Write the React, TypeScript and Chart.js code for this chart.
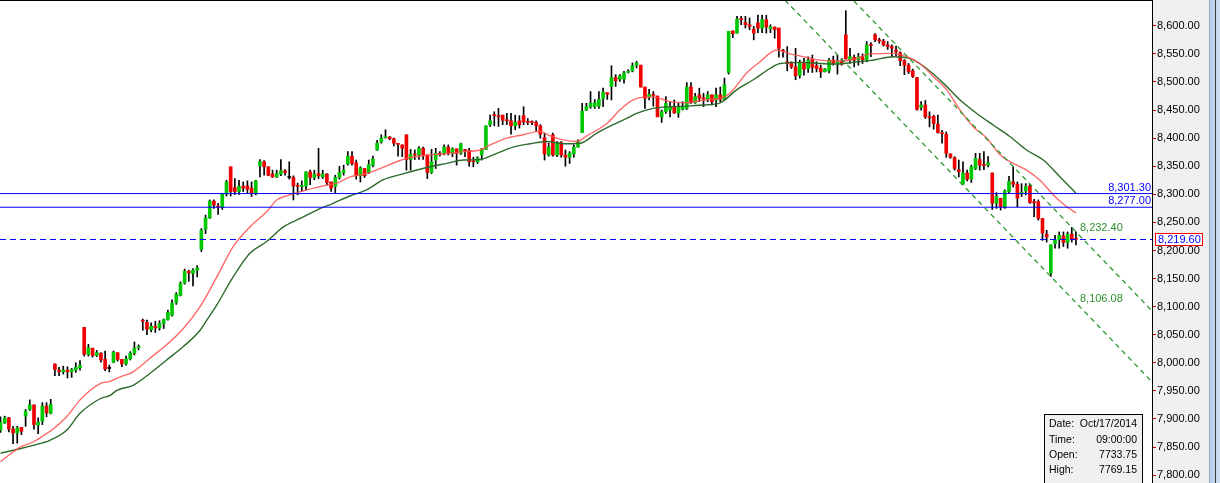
import React, { useEffect, useRef } from "react";
import { Chart, registerables } from "chart.js";

Chart.register(...registerables);

// ---- Candles (bar index 0..257) ----
const opens = [
  7880, 7893, 7902, 7882, 7875, 7885, 7905, 7917, 7925, 7889, 7896, 7923, 7910,
  7998, 7987, 7984, 7987, 7984, 7987, 7991, 8063, 8015, 8026, 8013, 8017, 8006,
  7990, 8001, 8018, 8006, 7998, 8007, 8017, 8027, 8076, 8072, 8059, 8065, 8062,
  8070, 8077, 8085, 8107, 8120, 8142, 8163, 8159, 8165, 8202, 8238, 8258, 8288,
  8279, 8277, 8301, 8349, 8312, 8305, 8314, 8315, 8311, 8301, 8351, 8358, 8349,
  8336, 8331, 8336, 8342, 8330, 8330, 8315, 8314, 8315, 8340, 8330, 8337, 8331,
  8336, 8322, 8314, 8330, 8339, 8354, 8368, 8356, 8333, 8346, 8339, 8352, 8379,
  8393, 8401, 8402, 8399, 8390, 8388, 8406, 8362, 8371, 8370, 8382, 8370, 8339,
  8361, 8373, 8373, 8384, 8373, 8381, 8373, 8379, 8378, 8359, 8358, 8370, 8380,
  8424, 8441, 8439, 8441, 8432, 8431, 8422, 8431, 8440, 8430, 8429, 8428, 8422,
  8401, 8370, 8406, 8370, 8392, 8370, 8366, 8372, 8384, 8410, 8450, 8456, 8456,
  8457, 8470, 8481, 8492, 8508, 8505, 8505, 8517, 8520, 8530, 8530, 8491, 8473,
  8478, 8475, 8438, 8447, 8450, 8456, 8445, 8451, 8453, 8491, 8463, 8477, 8471,
  8469, 8477, 8468, 8477, 8469, 8517, 8591, 8587, 8613, 8606, 8602, 8594, 8605,
  8596, 8611, 8595, 8598, 8596, 8556, 8536, 8533, 8527, 8512, 8533, 8524, 8540,
  8529, 8525, 8518, 8520, 8539, 8532, 8536, 8584, 8539, 8544, 8540, 8545, 8539,
  8567, 8584, 8575, 8573, 8566, 8563, 8557, 8552, 8538, 8530, 8520, 8508, 8455,
  8459, 8438, 8439, 8425, 8409, 8407, 8372, 8365, 8344, 8318, 8338, 8327, 8346,
  8362, 8353, 8352, 8338, 8284, 8293, 8278, 8305, 8322, 8318, 8302, 8306, 8315,
  8287, 8287, 8257, 8229, 8160, 8212, 8219, 8226, 8214, 8229, 8221,
];
const highs = [
  7904, 7905, 7903, 7887, 7887, 7885, 7917, 7934, 7925, 7902, 7929, 7929, 7935,
  7998, 7992, 7994, 7993, 7990, 8000, 8004, 8063, 8033, 8026, 8022, 8018, 8021,
  7996, 8021, 8018, 8006, 8012, 8020, 8037, 8032, 8078, 8076, 8071, 8074, 8075,
  8078, 8094, 8112, 8125, 8144, 8167, 8165, 8168, 8173, 8239, 8263, 8290, 8290,
  8284, 8302, 8325, 8349, 8328, 8325, 8322, 8324, 8322, 8325, 8362, 8360, 8349,
  8343, 8343, 8362, 8344, 8358, 8333, 8320, 8324, 8340, 8343, 8343, 8382, 8343,
  8337, 8322, 8334, 8350, 8352, 8376, 8376, 8361, 8349, 8346, 8361, 8368, 8396,
  8406, 8415, 8403, 8400, 8391, 8388, 8406, 8380, 8379, 8385, 8384, 8370, 8380,
  8382, 8376, 8388, 8388, 8383, 8381, 8391, 8380, 8382, 8366, 8367, 8382, 8422,
  8441, 8447, 8453, 8441, 8444, 8444, 8441, 8440, 8456, 8435, 8431, 8431, 8424,
  8409, 8391, 8409, 8394, 8394, 8379, 8376, 8388, 8397, 8462, 8462, 8483, 8469,
  8483, 8489, 8481, 8529, 8513, 8513, 8519, 8522, 8534, 8537, 8530, 8491, 8487,
  8483, 8475, 8450, 8474, 8465, 8468, 8462, 8465, 8499, 8499, 8480, 8489, 8480,
  8483, 8477, 8489, 8491, 8507, 8590, 8591, 8617, 8617, 8617, 8614, 8599, 8619,
  8619, 8619, 8602, 8598, 8596, 8558, 8563, 8536, 8560, 8539, 8542, 8545, 8548,
  8536, 8530, 8524, 8542, 8546, 8548, 8542, 8627, 8560, 8548, 8551, 8550, 8572,
  8570, 8586, 8578, 8576, 8572, 8566, 8564, 8554, 8540, 8533, 8523, 8508, 8465,
  8467, 8447, 8441, 8441, 8414, 8411, 8372, 8367, 8361, 8358, 8343, 8352, 8373,
  8373, 8376, 8367, 8338, 8303, 8293, 8308, 8332, 8349, 8322, 8319, 8319, 8318,
  8291, 8290, 8257, 8236, 8210, 8227, 8233, 8233, 8233, 8241, 8233,
];
const lows = [
  7876, 7892, 7877, 7856, 7857, 7872, 7887, 7915, 7882, 7874, 7890, 7904, 7909,
  7977, 7977, 7980, 7973, 7974, 7983, 7987, 8012, 8012, 8010, 8011, 8001, 7986,
  7984, 8000, 8003, 7993, 7996, 8005, 8014, 8023, 8058, 8050, 8055, 8054, 8058,
  8061, 8076, 8083, 8104, 8119, 8140, 8145, 8137, 8153, 8198, 8230, 8257, 8275,
  8264, 8273, 8297, 8297, 8300, 8300, 8305, 8302, 8296, 8299, 8331, 8334, 8333,
  8330, 8330, 8333, 8334, 8327, 8290, 8299, 8305, 8308, 8317, 8326, 8328, 8328,
  8317, 8305, 8303, 8327, 8334, 8352, 8352, 8327, 8322, 8330, 8337, 8349, 8378,
  8391, 8400, 8397, 8386, 8368, 8367, 8343, 8343, 8362, 8362, 8362, 8328, 8337,
  8346, 8368, 8370, 8370, 8367, 8352, 8371, 8367, 8350, 8349, 8355, 8361, 8380,
  8421, 8422, 8421, 8424, 8424, 8407, 8415, 8418, 8424, 8424, 8424, 8413, 8400,
  8361, 8368, 8368, 8367, 8366, 8350, 8355, 8366, 8384, 8410, 8449, 8453, 8453,
  8453, 8456, 8469, 8468, 8492, 8501, 8498, 8516, 8518, 8525, 8491, 8453, 8468,
  8457, 8438, 8428, 8444, 8438, 8444, 8437, 8450, 8451, 8462, 8462, 8465, 8456,
  8465, 8459, 8456, 8465, 8468, 8514, 8579, 8587, 8602, 8596, 8593, 8575, 8588,
  8588, 8587, 8588, 8578, 8544, 8544, 8520, 8524, 8504, 8507, 8512, 8517, 8517,
  8518, 8508, 8518, 8516, 8530, 8514, 8530, 8541, 8533, 8527, 8530, 8533, 8536,
  8545, 8572, 8569, 8564, 8558, 8545, 8546, 8529, 8513, 8515, 8508, 8450, 8450,
  8435, 8420, 8416, 8409, 8391, 8366, 8364, 8343, 8331, 8318, 8324, 8321, 8344,
  8343, 8344, 8349, 8273, 8275, 8272, 8275, 8303, 8313, 8278, 8296, 8299, 8284,
  8260, 8254, 8218, 8215, 8154, 8204, 8204, 8207, 8204, 8215, 8210,
];
const closes = [
  7894, 7902, 7882, 7875, 7884, 7878, 7914, 7925, 7890, 7894, 7923, 7911, 7926,
  7988, 7984, 7987, 7984, 7988, 7992, 7996, 8015, 8027, 8013, 8018, 8005, 7989,
  7990, 8019, 8006, 7998, 8007, 8017, 8026, 8028, 8074, 8060, 8065, 8062, 8070,
  8077, 8090, 8106, 8122, 8141, 8163, 8160, 8165, 8169, 8236, 8258, 8288, 8281,
  8277, 8300, 8322, 8305, 8305, 8314, 8311, 8309, 8302, 8324, 8358, 8349, 8334,
  8331, 8337, 8342, 8339, 8330, 8315, 8314, 8316, 8340, 8330, 8336, 8333, 8336,
  8321, 8311, 8330, 8339, 8343, 8368, 8355, 8334, 8347, 8333, 8353, 8363, 8391,
  8400, 8402, 8399, 8391, 8389, 8382, 8362, 8371, 8370, 8382, 8370, 8339, 8358,
  8373, 8371, 8384, 8374, 8381, 8373, 8390, 8378, 8358, 8358, 8365, 8381, 8422,
  8431, 8440, 8438, 8432, 8431, 8422, 8428, 8424, 8429, 8428, 8428, 8422, 8407,
  8372, 8384, 8370, 8392, 8370, 8366, 8373, 8384, 8394, 8448, 8456, 8462, 8463,
  8469, 8482, 8478, 8508, 8502, 8511, 8516, 8519, 8529, 8534, 8491, 8471, 8478,
  8476, 8438, 8447, 8462, 8456, 8445, 8455, 8456, 8491, 8463, 8474, 8471, 8470,
  8477, 8465, 8477, 8469, 8495, 8590, 8586, 8612, 8611, 8602, 8599, 8587, 8596,
  8611, 8598, 8598, 8593, 8560, 8555, 8533, 8527, 8511, 8534, 8523, 8539, 8526,
  8524, 8518, 8523, 8539, 8533, 8536, 8532, 8541, 8545, 8539, 8545, 8539, 8566,
  8565, 8575, 8573, 8566, 8563, 8560, 8554, 8538, 8530, 8518, 8510, 8451, 8459,
  8438, 8436, 8426, 8410, 8408, 8373, 8366, 8346, 8340, 8338, 8327, 8349, 8364,
  8352, 8351, 8356, 8284, 8296, 8278, 8306, 8323, 8318, 8293, 8304, 8314, 8285,
  8285, 8257, 8231, 8224, 8210, 8219, 8227, 8214, 8229, 8221, 8219.6,
];

// ---- Moving averages (bar index, price) ----
const maFastX = [
  0, 4.7, 7.8, 11, 12.2, 15.8, 19, 23.8, 26.2, 28.6, 31.7, 33.3, 35.7, 39.7, 43.7,
  47.7, 51.7, 55.6, 59.6, 63.6, 66, 69.2, 73.2, 77.1, 80.3, 83.5, 87.5, 91.4, 94.7,
  97.1, 102.6, 106.6, 110.6, 114.6, 117, 121, 124.9, 128.9, 131.3, 134.5, 137.7,
  140.1, 144.9, 148, 151.2, 153.6, 156, 160, 164, 168, 172, 174.3, 178.3, 181.5,
  185.5, 188.7, 192.6, 195.8, 199.8, 203.8, 207.8, 213.4, 216.6, 219.7, 222.9,
  226.1, 229.3, 232.5, 235.7, 238.9, 242, 245.2, 248.4, 251.6, 254.8, 257,
];
const maFastY = [
  7824, 7850, 7859, 7874, 7880, 7904, 7934, 7963, 7967, 7975, 7984, 7993, 8008,
  8032, 8061, 8100, 8153, 8207, 8242, 8269, 8290, 8299, 8308, 8315, 8320, 8331,
  8337, 8348, 8358, 8364, 8370, 8372, 8376, 8379, 8388, 8400, 8406, 8412, 8404,
  8397, 8394, 8404, 8426, 8450, 8468, 8473, 8473, 8465, 8463, 8468, 8471, 8480,
  8516, 8536, 8557, 8550, 8544, 8539, 8537, 8540, 8550, 8551, 8545, 8533, 8510,
  8486, 8450, 8420, 8400, 8370, 8355, 8343, 8325, 8299, 8278, 8267,
];
const maSlowX = [
  0, 4.7, 7.8, 11.8, 15.8, 19, 23.8, 26.2, 27.8, 31.7, 35.7, 39.7, 43.7, 47.7,
  49.3, 51.7, 55.6, 59.6, 63.6, 67.6, 71.6, 75.6, 79.5, 83.5, 87.5, 91.5, 95.5,
  102.6, 106.6, 110.6, 114.6, 118.6, 122.5, 126.5, 130.5, 134.5, 138.5, 142.5,
  146.4, 150.4, 152, 156, 160, 164, 168, 172, 175.9, 179.9, 183.9, 186.3, 191.8,
  195.8, 199.8, 203.8, 207.8, 213.4, 217.3, 221.3, 225.3, 229.3, 233.3, 237.3,
  241.2, 245.2, 249.2, 253.2, 257,
];
const maSlowY = [
  7839, 7847, 7853, 7862, 7880, 7910, 7936, 7942, 7951, 7960, 7981, 8005, 8029,
  8058, 8076, 8103, 8153, 8195, 8216, 8242, 8257, 8272, 8284, 8297, 8308, 8326,
  8335, 8349, 8355, 8361, 8362, 8373, 8384, 8390, 8394, 8390, 8391, 8409, 8424,
  8438, 8444, 8453, 8456, 8457, 8459, 8463, 8486, 8504, 8524, 8533, 8535, 8533,
  8532, 8535, 8538, 8545, 8542, 8524, 8498, 8468, 8444, 8423, 8403, 8379, 8361,
  8331, 8302,
];

// ---- Levels, channel and labels ----
const levelTop = 8301.3;
const levelMid = 8277.0;
const lastPrice = 8219.6;
const channelUpperX = [195, 275.2];
const channelUpperY = [8713.5, 8092.3];
const channelLowerX = [180, 275.2];
const channelLowerY = [8703.6, 7966.0];
const channelUpperLabel = 8232.4;
const channelLowerLabel = 8106.08;
const yTicks = [
  7800, 7850, 7900, 7950, 8000, 8050, 8100, 8150, 8200, 8250, 8300, 8350, 8400,
  8450, 8500, 8550, 8600,
];
const infoKeys = ["Date:", "Time:", "Open:", "High:"];
const infoValues = ["Oct/17/2014", "09:00:00", "7733.75", "7769.15"];

const X_MIN = -0.12;
const X_MAX = 275.17;
const FONT = '11px "Liberation Sans", Arial, sans-serif';
const INFO_FONT = '10.5px "Liberation Sans", Arial, sans-serif';
const fmt = (v: number) =>
  v.toLocaleString("en-US", { minimumFractionDigits: 2, maximumFractionDigits: 2 });

const overlayPlugin = {
  id: "overlay",
  beforeDraw(chart: any) {
    const { ctx, chartArea } = chart;
    ctx.save();
    ctx.fillStyle = "#ffffff";
    ctx.fillRect(chartArea.left, chartArea.top, chartArea.right - chartArea.left, chartArea.bottom - chartArea.top);
    ctx.restore();
  },
  afterDraw(chart: any) {
    const { ctx, chartArea, scales } = chart;
    const xs = scales.x;
    const ys = scales.y;
    ctx.save();
    // top border
    ctx.strokeStyle = "#000";
    ctx.lineWidth = 1;
    ctx.beginPath();
    ctx.moveTo(chartArea.left, 0.5);
    ctx.lineTo(chartArea.right, 0.5);
    ctx.stroke();

    ctx.font = FONT;
    // level labels
    ctx.fillStyle = "#0000ff";
    ctx.textAlign = "right";
    ctx.textBaseline = "bottom";
    ctx.fillText(fmt(levelTop), chartArea.right - 1, ys.getPixelForValue(levelTop) - 0.5);
    ctx.fillText(fmt(levelMid), chartArea.right - 1, ys.getPixelForValue(levelMid) - 0.5);

    // channel labels
    const lastX = xs.getPixelForValue(closes.length - 1);
    ctx.fillStyle = "#2f8f2f";
    ctx.textAlign = "left";
    ctx.textBaseline = "middle";
    ctx.fillText(fmt(channelUpperLabel), lastX + 4, ys.getPixelForValue(channelUpperLabel) - 4);
    ctx.fillText(fmt(channelLowerLabel), lastX + 4, ys.getPixelForValue(channelLowerLabel) - 4);

    // current price box
    const py = Math.round(ys.getPixelForValue(lastPrice));
    const bx = chartArea.right + 3.5;
    ctx.fillStyle = "#ffffff";
    ctx.fillRect(bx, py - 5.5, 47, 12);
    ctx.strokeStyle = "#ff0000";
    ctx.strokeRect(bx, py - 5.5, 47, 12);
    ctx.fillStyle = "#0000ff";
    ctx.textBaseline = "middle";
    ctx.fillText(fmt(lastPrice), bx + 2.5, py + 0.5);

    // info box
    ctx.fillStyle = "#f0f0f0";
    ctx.fillRect(1044.5, 414.5, 98, 80);
    ctx.strokeStyle = "#000";
    ctx.strokeRect(1044.5, 414.5, 98, 80);
    ctx.fillStyle = "#000";
    ctx.font = INFO_FONT;
    infoKeys.forEach((k, i) => {
      const y = 424.5 + i * 15.2;
      ctx.textAlign = "left";
      ctx.fillText(k, 1049, y);
      ctx.textAlign = "right";
      ctx.fillText(infoValues[i], 1137, y);
    });
    ctx.restore();
  },
};

export default function App() {
  const ref = useRef<HTMLCanvasElement | null>(null);

  useEffect(() => {
    if (!ref.current) return;
    const idx = closes.map((_, i) => i);
    const bodyColors = idx.map((i) =>
      closes[i] > opens[i] ? "#00c800" : closes[i] < opens[i] ? "#f00000" : "#000000"
    );
    const line = (xArr: number[], yArr: number[]) => xArr.map((x, i) => ({ x, y: yArr[i] }));
    const hline = (v: number) => [
      { x: X_MIN, y: v },
      { x: X_MAX, y: v },
    ];

    const chart = new Chart(ref.current, {
      type: "line",
      data: {
        datasets: [
          {
            type: "line",
            data: hline(levelTop),
            borderColor: "#0000ff",
            borderWidth: 1,
            pointRadius: 0,
            order: 0,
          },
          {
            type: "line",
            data: hline(levelMid),
            borderColor: "#0000ff",
            borderWidth: 1,
            pointRadius: 0,
            order: 0,
          },
          {
            type: "line",
            data: hline(lastPrice),
            borderColor: "#0000ff",
            borderWidth: 1,
            borderDash: [6, 4],
            pointRadius: 0,
            order: 0,
          },
          {
            type: "line",
            data: line(channelUpperX, channelUpperY),
            borderColor: "#2e9a2e",
            borderWidth: 1.3,
            borderDash: [5, 4],
            pointRadius: 0,
            order: 0,
          },
          {
            type: "line",
            data: line(channelLowerX, channelLowerY),
            borderColor: "#2e9a2e",
            borderWidth: 1.3,
            borderDash: [5, 4],
            pointRadius: 0,
            order: 0,
          },
          {
            type: "line",
            data: line(maFastX, maFastY),
            borderColor: "rgba(255,80,80,0.85)",
            borderWidth: 1.4,
            pointRadius: 0,
            cubicInterpolationMode: "monotone",
            order: 1,
          },
          {
            type: "line",
            data: line(maSlowX, maSlowY),
            borderColor: "#2d6b2d",
            borderWidth: 1.4,
            pointRadius: 0,
            cubicInterpolationMode: "monotone",
            order: 1,
          },
          {
            type: "bar",
            data: idx.map((i) => ({ x: i, y: [opens[i], closes[i]] })) as any,
            backgroundColor: bodyColors,
            borderWidth: 0,
            barThickness: 3,
            minBarLength: 1,
            grouped: false,
            order: 2,
          } as any,
          {
            type: "bar",
            data: idx.map((i) => ({ x: i, y: [lows[i], highs[i]] })) as any,
            backgroundColor: "#000000",
            borderWidth: 0,
            barThickness: 1,
            grouped: false,
            order: 3,
          } as any,
        ],
      },
      options: {
        animation: false,
        responsive: false,
        maintainAspectRatio: false,
        events: [],
        layout: { padding: 0 },
        plugins: { legend: { display: false }, tooltip: { enabled: false } },
        scales: {
          x: {
            type: "linear",
            min: X_MIN,
            max: X_MAX,
            offset: false,
            display: false,
          },
          y: {
            type: "linear",
            position: "right",
            min: 7786,
            max: 8646,
            afterBuildTicks: (s: any) => {
              s.ticks = yTicks.map((v) => ({ value: v }));
            },
            afterFit: (s: any) => {
              s.width = 68;
              s.paddingTop = 0;
              s.paddingBottom = 0;
            },
            grid: {
              drawOnChartArea: false,
              tickColor: "#e00000",
              tickLength: 4,
              tickWidth: 1,
            },
            border: { color: "#000000", width: 1 },
            ticks: {
              color: "#000000",
              padding: 1,
              font: { family: '"Liberation Sans", Arial, sans-serif', size: 11 },
              callback: (v: any) => fmt(Number(v)),
            },
          },
        },
      } as any,
      plugins: [overlayPlugin],
    });
    return () => chart.destroy();
  }, []);

  return (
    <div
      style={{
        position: "fixed",
        left: 0,
        top: 0,
        width: 1220,
        height: 483,
        background: "#f0f0f0",
        overflow: "hidden",
      }}
    >
      <canvas ref={ref} width={1220} height={483} style={{ display: "block" }} />
      <div
        style={{
          position: "absolute",
          left: 1209,
          top: 0,
          width: 11,
          height: 483,
          background: "linear-gradient(to right, #b4cde8, #cfe0f3)",
          borderLeft: "1px solid #9aa8b8",
          boxSizing: "border-box",
        }}
      >
        <div
          style={{
            position: "absolute",
            left: 5,
            top: 0,
            width: 1,
            height: 483,
            background: "#3a3a3a",
          }}
        />
      </div>
    </div>
  );
}
